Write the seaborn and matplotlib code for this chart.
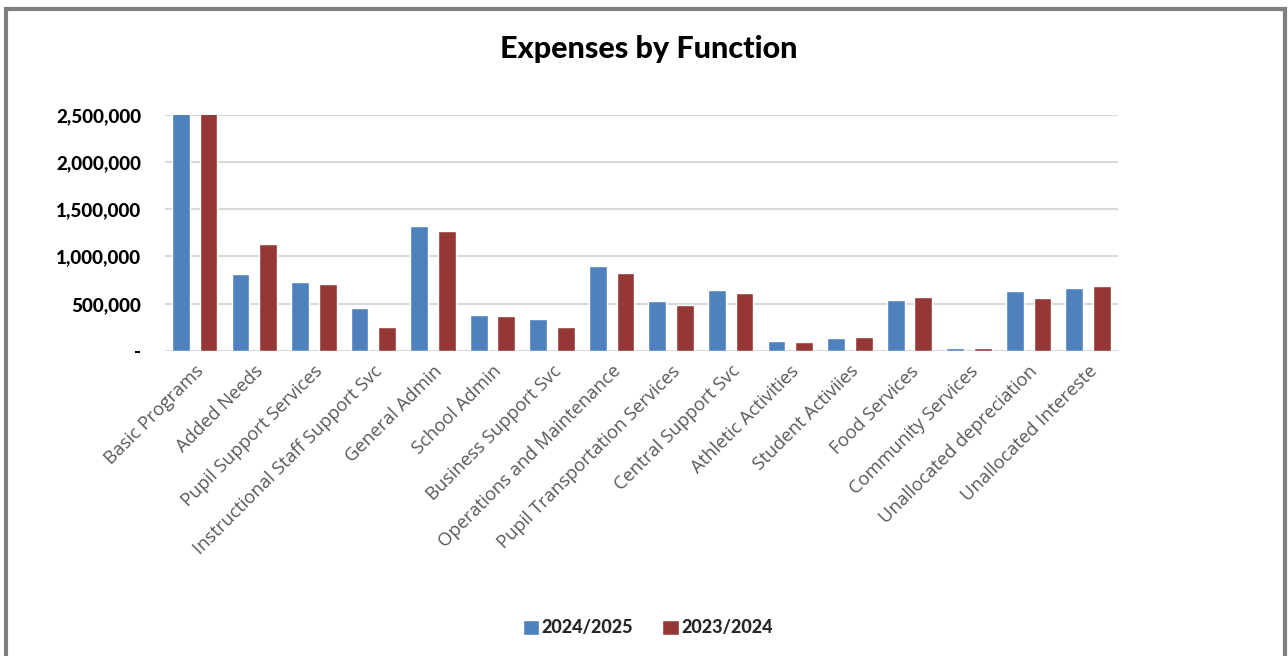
import matplotlib
matplotlib.use("Agg")
import matplotlib.pyplot as plt
import seaborn as sns
import pandas as pd
from matplotlib.patches import Rectangle
from matplotlib.ticker import FuncFormatter

categories = ["Basic Programs", "Added Needs", "Pupil Support Services",
              "Instructional Staff Support Svc", "General Admin", "School Admin",
              "Business Support Svc", "Operations and Maintenance",
              "Pupil Transportation Services", "Central Support Svc",
              "Athletic Activities", "Student Activiies", "Food Services",
              "Community Services", "Unallocated depreciation", "Unallocated Intereste"]
series_names = ["2024/2025", "2023/2024"]
values_2425 = [4200000, 815000, 728000, 452000, 1327000, 381000, 339000, 897000,
               530000, 646000, 106000, 141000, 536000, 28000, 636000, 671000]
values_2324 = [4000000, 1137000, 713000, 251000, 1271000, 374000, 254000, 826000,
               487000, 614000, 92000, 148000, 575000, 30000, 558000, 692000]
ytick_values = [0, 500000, 1000000, 1500000, 2000000, 2500000]
colors = ["#4F81BD", "#953735"]

df = pd.DataFrame({
    "Function": categories * 2,
    "Series": [series_names[0]] * len(categories) + [series_names[1]] * len(categories),
    "Value": values_2425 + values_2324,
})

sns.set_theme(style="white")
plt.rcParams["font.family"] = ["Lato", "DejaVu Sans"]

fig = plt.figure(figsize=(12.88, 6.56), dpi=100)
ax = fig.add_axes([0.128, 0.465, 0.740, 0.360])

sns.barplot(data=df, x="Function", y="Value", hue="Series", order=categories,
            hue_order=series_names, palette=colors, width=0.93, gap=0.36,
            saturation=1, errorbar=None, ax=ax, legend=True, zorder=3)

ax.set_ylim(0, 2500000)
ax.set_xlim(-0.5, len(categories) - 0.5)
ax.set_yticks(ytick_values)
ax.yaxis.set_major_formatter(FuncFormatter(lambda v, p: "-" if v == 0 else f"{int(v):,}"))
ax.grid(axis="y", color="#D9D9D9", linewidth=1.5, zorder=0)
ax.set_axisbelow(True)
for s in ax.spines.values():
    s.set_visible(False)
ax.set_xlabel("")
ax.set_ylabel("")
ax.tick_params(axis="y", length=0, pad=17, labelsize=13.5)
for t in ax.get_yticklabels():
    t.set_fontweight("black")
    t.set_color("#000000")
ax.tick_params(axis="x", length=0, pad=8)
ax.set_xticks(range(len(categories)))
ax.set_xticklabels(categories, rotation=45, ha="right", rotation_mode="anchor",
                   fontsize=13.2, color="#595959", family=["Open Sans", "DejaVu Sans"])

fig.text(0.504, 0.925, "Expenses by Function", ha="center", va="center",
         fontsize=22, fontweight="black", color="#000000")

leg = ax.legend(loc="center", bbox_to_anchor=(0.503, 0.043), bbox_transform=fig.transFigure,
                ncol=2, frameon=False, handlelength=0.9, handleheight=0.9,
                handletextpad=0.15, columnspacing=1.6, fontsize=13)
for t in leg.get_texts():
    t.set_fontweight("black")

fig.patches.append(Rectangle((6 / 1288, -0.2), 1279 / 1288, 1.2 - 9 / 656,
                             transform=fig.transFigure, fill=False,
                             edgecolor="#7F7F7F", linewidth=3, zorder=10))

fig.savefig("out.png", dpi=100)
